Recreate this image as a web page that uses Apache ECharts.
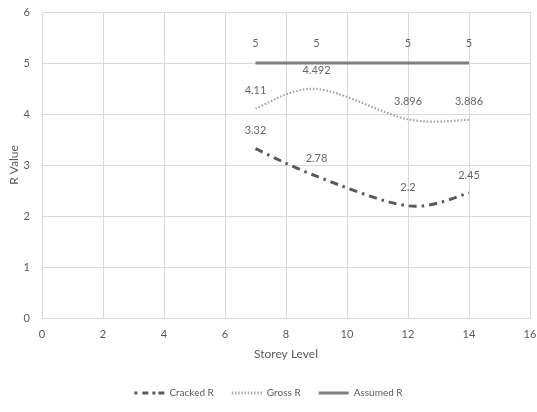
<!DOCTYPE html>
<html>
<head>
<meta charset="utf-8">
<script src="https://cdn.jsdelivr.net/npm/echarts@6/dist/echarts.min.js"></script>
<style>
  html, body { margin: 0; padding: 0; background: #fff; }
  #chart { width: 537px; height: 412px; }
</style>
</head>
<body>
<div id="chart"></div>
<script>
// Storey levels where R was evaluated
const storeys = [7, 9, 12, 14];
// R values per storey
const crackedR = [3.32, 2.78, 2.2, 2.45];
const grossR = [4.11, 4.492, 3.896, 3.886];
const assumedR = [5, 5, 5, 5];

const pairs = (xs, ys) => xs.map((x, i) => [x, ys[i]]);
const FONT = 'Lato, "Open Sans", sans-serif';

// Smoothed (Catmull-Rom style) path through the points, in pixel space
function smoothPath(pts) {
  let d = 'M' + pts[0][0] + ' ' + pts[0][1];
  for (let i = 0; i < pts.length - 1; i++) {
    const p0 = pts[Math.max(i - 1, 0)];
    const p1 = pts[i];
    const p2 = pts[i + 1];
    const p3 = pts[Math.min(i + 2, pts.length - 1)];
    const c1 = [p1[0] + (p2[0] - p0[0]) / 6, p1[1] + (p2[1] - p0[1]) / 6];
    const c2 = [p2[0] - (p3[0] - p1[0]) / 6, p2[1] - (p3[1] - p1[1]) / 6];
    d += ' C' + c1[0] + ' ' + c1[1] + ' ' + c2[0] + ' ' + c2[1] + ' ' + p2[0] + ' ' + p2[1];
  }
  return d;
}

function curve(name, ys, color, width, dash) {
  return {
    name: name,
    type: 'custom',
    data: pairs(storeys, ys),
    encode: { x: 0, y: 1 },
    itemStyle: { color: color },
    renderItem: function (params, api) {
      if (params.dataIndex !== 0) return null;
      const pts = pairs(storeys, ys).map(p => api.coord(p));
      return {
        type: 'path',
        shape: { pathData: smoothPath(pts) },
        style: {
          fill: null,
          stroke: color,
          lineWidth: width,
          lineDash: dash,
          lineCap: 'butt'
        }
      };
    },
    z: 2
  };
}

// Invisible point series that carry the value labels
function valueLabels(ys, distance) {
  return {
    type: 'scatter',
    data: pairs(storeys, ys),
    symbolSize: 1,
    itemStyle: { color: 'rgba(0,0,0,0)' },
    silent: true,
    label: {
      show: true,
      position: 'top',
      distance: distance,
      color: '#404040',
      fontSize: 11,
      fontFamily: FONT,
      formatter: p => String(p.value[1])
    },
    z: 3
  };
}

// Legend swatches: short stroke patterns made of small bars
function barsIcon(segs) {
  return 'path://' + segs.map(s => 'M' + s[0] + ',0h' + s[1] + 'v3h-' + s[1] + 'z').join(' ');
}
const dottedSegs = [];
for (let x = 0; x < 30; x += 3.3) dottedSegs.push([x, 1.4]);

const chart = echarts.init(document.getElementById('chart'), null, { renderer: 'canvas' });
chart.setOption({
  animation: false,
  textStyle: { fontFamily: FONT },
  grid: { left: 42, right: 7, top: 12, bottom: 94, outerBoundsMode: 'none', containLabel: false },
  xAxis: {
    type: 'value',
    min: 0, max: 16, interval: 2,
    name: 'Storey Level',
    nameLocation: 'middle',
    nameGap: 30,
    nameMoveOverlap: false,
    nameTextStyle: { color: '#595959', fontSize: 12, fontFamily: FONT },
    axisLine: { show: true, lineStyle: { color: '#d9d9d9' } },
    axisTick: { show: false },
    axisLabel: { color: '#595959', fontSize: 11, margin: 11 },
    splitLine: { show: true, lineStyle: { color: '#d9d9d9' } }
  },
  yAxis: {
    type: 'value',
    min: 0, max: 6, interval: 1,
    name: 'R Value',
    nameLocation: 'middle',
    nameGap: 22,
    nameMoveOverlap: false,
    nameTextStyle: { color: '#595959', fontSize: 12, fontFamily: FONT },
    axisLine: { show: false },
    axisTick: { show: false },
    axisLabel: { color: '#595959', fontSize: 11, margin: 12 },
    splitLine: { show: true, lineStyle: { color: '#d9d9d9' } }
  },
  legend: {
    bottom: 9,
    left: 'center',
    itemWidth: 30,
    itemHeight: 3,
    itemGap: 18,
    textStyle: { color: '#595959', fontSize: 10, fontFamily: FONT },
    data: [
      { name: 'Cracked R', icon: barsIcon([[0, 3], [8, 6], [18, 3], [24, 6]]) },
      { name: 'Gross R', icon: barsIcon(dottedSegs) },
      { name: 'Assumed R', icon: barsIcon([[0, 30]]) }
    ]
  },
  series: [
    curve('Cracked R', crackedR, '#595959', 3, [8, 5, 2.5, 5]),
    curve('Gross R', grossR, '#a5a5a5', 2.2, [1.6, 1.8]),
    curve('Assumed R', assumedR, '#7f7f7f', 2.8, null),
    valueLabels(crackedR, 12),
    valueLabels(grossR, 12),
    valueLabels(assumedR, 14)
  ]
});
</script>
</body>
</html>
